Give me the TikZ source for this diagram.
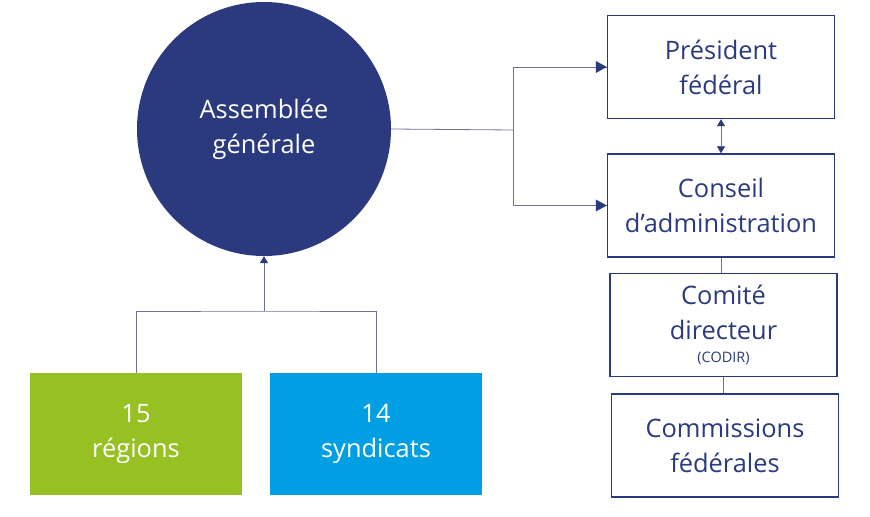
\documentclass[tikz,border=0pt]{standalone}
\usepackage{fontspec}
\setmainfont{Open Sans}[Ligatures=NoCommon]
\usetikzlibrary{arrows.meta}
\definecolor{navy}{HTML}{2B3A7E}
\definecolor{wire}{HTML}{6E7394}
\definecolor{leaf}{HTML}{97C023}
\definecolor{sky}{HTML}{009FE3}

\begin{document}
\begin{tikzpicture}[x=1bp,y=-1bp]
\tikzset{
  unit/.style   = {shape=rectangle, draw=navy, line width=1.4pt,
                   text=navy, align=center, inner sep=0pt,
                   minimum width=227bp, minimum height=103bp,
                   font=\fontsize{25.5}{35}\selectfont},
  member/.style = {shape=rectangle, text=white, align=center,
                   minimum width=212bp, minimum height=122bp,
                   font=\fontsize{25.5}{35}\selectfont},
  assembly/.style = {shape=circle, fill=navy, text=white, align=center,
                   minimum size=254bp, inner sep=0pt,
                   font=\fontsize{25.5}{35}\selectfont},
  link/.style   = {draw=wire, line width=0.8pt},
  navytip/.tip  = {Triangle[length=7bp,width=8bp,color=navy]}
}
\useasboundingbox (0,0) rectangle (870,517);
  % left part
  \node[assembly] (ag) at (264,129) {Assemblée\\générale};
  \node[member, fill=leaf] (reg) at (136,434) {15\\régions};
  \node[member, fill=sky]  (syn) at (376,434) {14\\syndicats};
  % right column
  \node[unit] (pres)  at (721,67)    {Président\\fédéral};
  \node[unit] (ca)    at (721,205.5) {Conseil\\d’administration};
  \node[unit] (codir) at (723.5,325) {Comité\\directeur\\[-12bp]{\fontsize{14.5}{16}\selectfont(CODIR)}};
  \node[unit] (comm)  at (725,445.5) {Commissions\\fédérales};
  \coordinate (split) at (513,130);
  \coordinate (merge) at (264,311);
  % connectors
  \draw[link] (ag.east) -- (split);
  \draw[link] (split) |- (pres.west);
  \draw[link] (split) |- (ca.west);
  \fill[navy] (pres.west) -- ++(-11,-6) -- ++(0,12) -- cycle;
  \fill[navy] (ca.west) -- ++(-11,-6) -- ++(0,12) -- cycle;
  \draw[link, navytip-navytip] (pres.south) -- (ca.north);
  \draw[link] (ca.south) -- (ca.south |- codir.north);
  \draw[link] (codir.south) -- (codir.south |- comm.north);
  \draw[link] (reg.north) |- (merge) -| (syn.north);
  \draw[link, -navytip] (merge) -- (ag.south);
\end{tikzpicture}
\end{document}
